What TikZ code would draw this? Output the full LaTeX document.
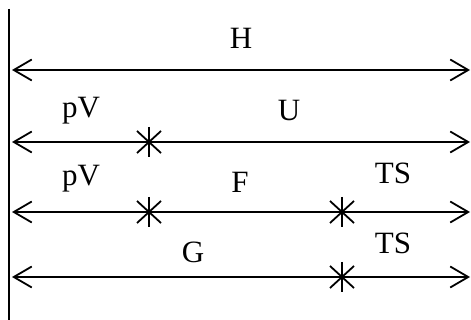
\documentclass[tikz,border=0pt]{standalone}
\usepackage{fontspec}
\setmainfont{Liberation Serif}
\usetikzlibrary{arrows.meta}
\begin{document}
\begin{tikzpicture}[x=1pt,y=-1pt,
  lbl/.style={anchor=base,inner sep=0pt,font=\fontsize{31}{33}\selectfont},
  arr/.style={line width=1.8pt,{Straight Barb[length=18pt,width=21pt,line width=1.8pt]}-{Straight Barb[length=18pt,width=21pt,line width=1.8pt]}},
  starmark/.style={line width=1.8pt}]
\useasboundingbox (0,0) rectangle (471,320);
% axis
\coordinate (ax1) at (8.5,9);
\coordinate (ax2) at (8.5,320);
\draw[line width=2pt] (ax1) -- (ax2);
% line ends
\coordinate (hL) at (12,70);  \coordinate (hR) at (470,70);
\coordinate (uL) at (12,142); \coordinate (uR) at (470,142);
\coordinate (fL) at (12,212); \coordinate (fR) at (470,212);
\coordinate (gL) at (12,277); \coordinate (gR) at (470,277);
\draw[arr] (hL) -- (hR);
\draw[arr] (uL) -- (uR);
\draw[arr] (fL) -- (fR);
\draw[arr] (gL) -- (gR);
% star marks
\foreach \n/\px/\py in {s1/149/142, s2/149/212, s3/342/212, s4/342/277}{
  \coordinate (\n) at (\px,\py);
  \draw[starmark] ([yshift=15pt]\n) -- ([yshift=-15pt]\n);
  \draw[starmark] ([xshift=-12pt,yshift=11pt]\n) -- ([xshift=12pt,yshift=-11pt]\n);
  \draw[starmark] ([xshift=-12pt,yshift=-11pt]\n) -- ([xshift=12pt,yshift=11pt]\n);
}
% labels
\node[lbl] (H) at (241,49) {H};
\node[lbl] (pV1) at (81,118) {pV};
\node[lbl] (U) at (289,121) {U};
\node[lbl] (pV2) at (81,186) {pV};
\node[lbl] (F) at (240,193) {F};
\node[lbl] (TS1) at (393,184) {TS};
\node[lbl] (G) at (193,262) {G};
\node[lbl] (TS2) at (393,254) {TS};
\end{tikzpicture}
\end{document}
